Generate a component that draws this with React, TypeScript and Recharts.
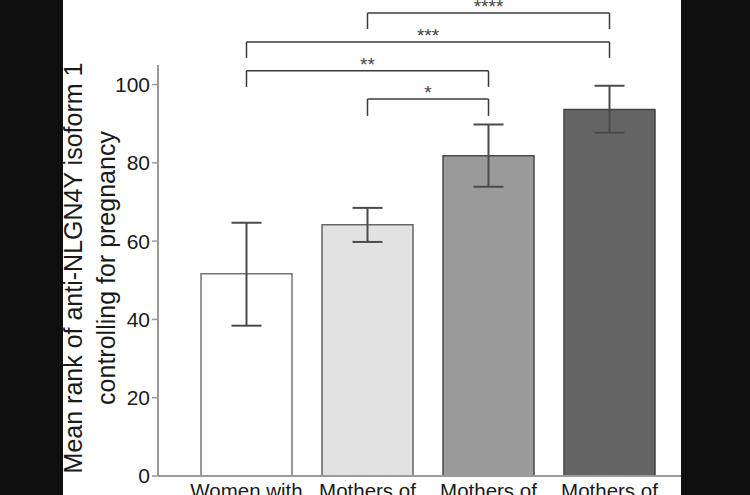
import { Bar, BarChart, Cell, ErrorBar, ReferenceLine, XAxis, YAxis } from "recharts";

const groups = ["g1", "g2", "g3", "g4"];
const tickLabels = ["Women with", "Mothers of", "Mothers of", "Mothers of"];
const meanRank = [51.7, 64.2, 81.8, 93.6];
const errLow = [38.4, 59.8, 73.9, 87.7];
const errHigh = [64.7, 68.5, 89.8, 99.7];
const fills = ["#ffffff", "#e2e2e2", "#9a9a9a", "#656565"];
const strokes = ["#777777", "#666666", "#4a4a4a", "#444444"];
const yTicks = [0, 20, 40, 60, 80, 100];

// significance brackets: from group, to group, bar height, leg bottom, stars
const brackets = [
  { from: "g2", to: "g4", top: 118.3, leg: 114.2, stars: "****" },
  { from: "g1", to: "g4", top: 110.9, leg: 106.8, stars: "***" },
  { from: "g1", to: "g3", top: 103.5, leg: 99.4, stars: "**" },
  { from: "g2", to: "g3", top: 96.3, leg: 92.0, stars: "*" },
];

const data = groups.map((g, i) => ({
  group: g,
  mean: meanRank[i],
  err: [meanRank[i] - errLow[i], errHigh[i] - meanRank[i]],
}));

const font = "'Liberation Sans', Arial, sans-serif";
const bracketColor = "#3a3a3a";

function YTitle(props: any) {
  const vb = props.viewBox || { x: 0, y: 0, width: 95, height: 411 };
  const cy = 268;
  const x1 = vb.x + 19;
  const x2 = vb.x + 52;
  return (
    <g fontFamily={font} fontSize={25} fill="#1a1a1a">
      <text x={x1} y={cy} textAnchor="middle" transform={`rotate(-90 ${x1} ${cy})`}>
        Mean rank of anti-NLGN4Y isoform 1
      </text>
      <text x={x2} y={cy} textAnchor="middle" transform={`rotate(-90 ${x2} ${cy})`}>
        controlling for pregnancy
      </text>
    </g>
  );
}

export default function App() {
  return (
    <div style={{ position: "absolute", left: 0, top: 0, width: 750, height: 495, background: "#0f0f0f" }}>
      <div style={{ position: "absolute", left: 63, top: 0, width: 618, height: 495, background: "#ffffff", overflow: "hidden" }}>
        <BarChart width={618} height={495} data={data} margin={{ top: 65, right: 0, bottom: 0, left: 0 }}>
          <XAxis
            dataKey="group"
            height={19}
            padding={{ left: 28, right: 11 }}
            tickFormatter={(v: string) => tickLabels[groups.indexOf(v)]}
            tick={{ fontSize: 20.5, fill: "#1a1a1a", fontFamily: font }}
            tickLine={false}
            tickSize={0}
            tickMargin={7}
            axisLine={{ stroke: "#9a9a9a", strokeWidth: 2 }}
          />
          <YAxis
            width={95}
            domain={[0, 105]}
            ticks={yTicks}
            interval={0}
            tick={{ fontSize: 21, fill: "#1a1a1a", fontFamily: font }}
            tickSize={6}
            tickMargin={2}
            tickLine={{ stroke: "#9a9a9a", strokeWidth: 1.5 }}
            axisLine={{ stroke: "#9a9a9a", strokeWidth: 2 }}
            label={<YTitle />}
          />
          <Bar dataKey="mean" barSize={91} strokeWidth={1.5} isAnimationActive={false}>
            {data.map((d, i) => (
              <Cell key={d.group} fill={fills[i]} stroke={strokes[i]} />
            ))}
            <ErrorBar dataKey="err" width={15} stroke="#4a4a4a" strokeWidth={2} direction="y" />
          </Bar>
          {brackets.map((b) => (
            <ReferenceLine
              key={b.stars}
              ifOverflow="visible"
              segment={[
                { x: b.from, y: b.top },
                { x: b.to, y: b.top },
              ]}
              stroke={bracketColor}
              strokeWidth={1.5}
              label={{ value: b.stars, position: "top", offset: 0, fontSize: 19, fill: "#444444", fontFamily: font }}
            />
          ))}
          {brackets.map((b) => (
            <ReferenceLine
              key={b.stars + "-l"}
              ifOverflow="visible"
              segment={[
                { x: b.from, y: b.top },
                { x: b.from, y: b.leg },
              ]}
              stroke={bracketColor}
              strokeWidth={1.5}
            />
          ))}
          {brackets.map((b) => (
            <ReferenceLine
              key={b.stars + "-r"}
              ifOverflow="visible"
              segment={[
                { x: b.to, y: b.top },
                { x: b.to, y: b.leg },
              ]}
              stroke={bracketColor}
              strokeWidth={1.5}
            />
          ))}
        </BarChart>
      </div>
    </div>
  );
}
